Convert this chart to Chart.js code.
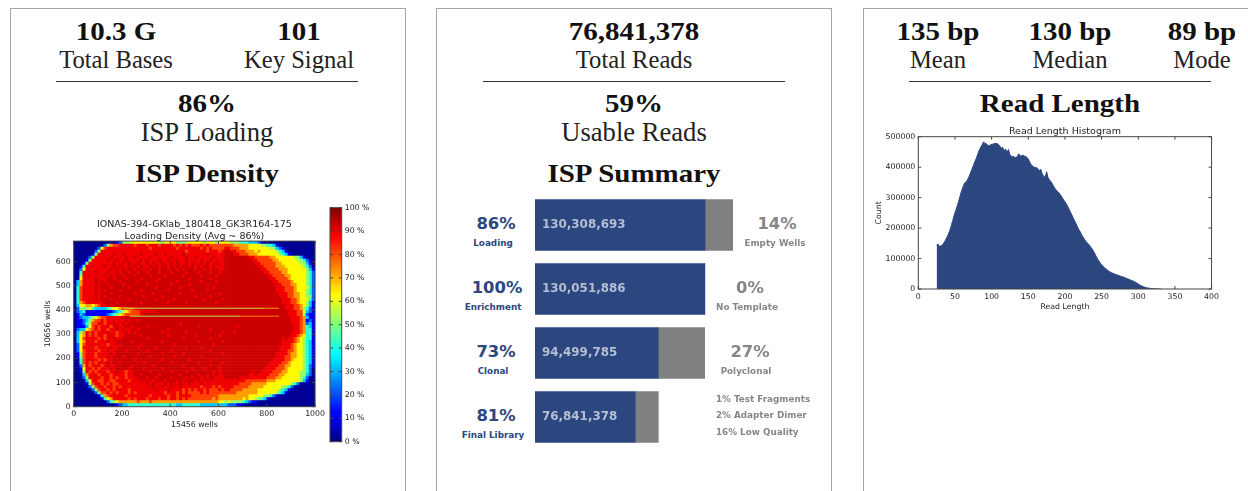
<!DOCTYPE html>
<html>
<head>
<meta charset="utf-8">
<script src="https://cdn.jsdelivr.net/npm/chart.js@4"></script>
<style>
  body { margin: 0; background: #fff; width: 1248px; height: 491px; overflow: hidden; position: relative; }
  .panel { position: absolute; top: 8px; width: 396px; height: 600px; border: 1px solid #a6a6a6; box-sizing: border-box; }
  .rule { position: absolute; top: 81px; width: 302px; height: 1px; background: #333; }
  .lbl { position: absolute; white-space: nowrap; transform: translate(-50%, -50%); line-height: 1; }
  .head { font-family: "Liberation Serif"; font-weight: bold; color: #111; font-size: 25px; transform: translate(-50%, -50%) scaleX(1.16); }
  .sub { font-family: "Liberation Serif"; color: #222; font-size: 24.6px; }
  .big { font-size: 26.6px; }
  .pct { font-family: "DejaVu Sans"; font-weight: bold; font-size: 16.4px; }
  .cap { font-family: "DejaVu Sans"; font-weight: bold; font-size: 8.8px; }
  .blue { color: #2c4780; }
  .grey { color: #868686; }
  .left { transform: translate(0, -50%); }
  canvas { position: absolute; }
</style>
</head>
<body>
<div class="panel" style="left:10px"></div>
<div class="panel" style="left:436px"></div>
<div class="panel" style="left:863px"></div>
<div class="rule" style="left:56px"></div>
<div class="rule" style="left:483px"></div>
<div class="rule" style="left:909px"></div>
<canvas id="densityChart" style="left:30px;top:210px;width:298px;height:226px" width="298" height="226"></canvas>
<canvas id="colorbarChart" style="left:325px;top:200px;width:55px;height:250px" width="55" height="250"></canvas>
<canvas id="summaryChart" style="left:535px;top:193px;width:210px;height:256px" width="210" height="256"></canvas>
<canvas id="lengthChart" style="left:870px;top:120px;width:352px;height:195px" width="352" height="195"></canvas>
<script>
const NAVY = '#2c4780';

// summary bars
const summaryNames = ['Loading', 'Enrichment', 'Clonal', 'Final Library'];
const summaryKept = [130308693, 130051886, 94499785, 76841378];
const summaryLost = [21200000, 256807, 35552101, 17658407];
const summaryPct = ['86%', '100%', '73%', '81%'];
const lostPct = ['14%', '0%', '27%'];
const lostNames = ['Empty Wells', 'No Template', 'Polyclonal'];
const finalNotes = ['1% Test Fragments', '2% Adapter Dimer', '16% Low Quality'];

// read length histogram
const readLengths = [25,27,29,31,33,35,37,39,41,43,45,47,49,51,53,55,57,59,61,63,65,67,69,71,73,75,77,79,81,83,85,87,89,91,93,95,97,99,
  101,103,105,107,109,111,113,115,117,119,121,123,125,127,129,131,133,135,137,139,141,143,145,147,149,151,153,155,157,159,161,163,165,167,169,171,173,175,177,179,181,183,185,187,189,191,193,195,197,199,
  201,203,205,207,209,211,213,215,217,219,221,223,225,227,229,231,233,235,237,239,241,243,245,247,249,251,253,255,257,259,261,263,265,267,269,271,273,275,277,279,281,283,285,287,289,291,293,295,297,299,
  301,303,305,307,309,311,313,315,317,319,321,323,325,327,329,331];
const readCounts = [145000,147000,140000,141000,145000,152000,160000,170000,180000,192000,208000,225000,243000,258000,272000,288000,305000,322000,335000,347000,352000,358000,368000,380000,392000,405000,418000,428000,442000,455000,465000,473000,483000,478000,476000,472000,470000,474000,
  475000,477000,478000,478000,475000,470000,462000,465000,453000,460000,448000,458000,440000,436000,435000,433000,432000,434000,444000,436000,438000,439000,436000,434000,430000,422000,412000,405000,402000,398000,399000,395000,388000,393000,378000,370000,367000,385000,365000,358000,352000,345000,335000,328000,322000,318000,312000,305000,297000,290000,
  283000,275000,265000,255000,245000,235000,225000,215000,205000,195000,187000,177000,170000,162000,155000,150000,145000,138000,132000,124000,115000,105000,97000,90000,82000,77000,72000,68000,64000,60000,57000,54000,52000,50000,48000,46000,45000,43000,41000,40000,38000,36000,34000,32000,30000,28000,26000,24000,21000,18000,
  15000,12000,9500,7500,6000,4500,3500,2500,1800,1200,800,500,300,200,100,50];

// wafer density in blocks of 12.5 wells, top row first
const densityLevels = { 0: 2, 1: 12, 2: 22, 3: 32, 4: 42, 5: 52, 6: 63, 7: 72, 8: 81, 9: 89, x: 92.5 };
const densityRows = [
  '0000000000 0000125556 6666666655 6666555566 6665666566 6655544433 3210000000 0000000000',
  '0000000000 2578899999 8999899989 9998989898 8898988888 8887777766 6655443100 0000000000',
  '0000000026 8999999999 9999989999 9999899999 9989898888 9988877766 6666655321 0000000000',
  '0000000259 9999999999 9999999999 9999999899 9999899989 xx99888777 6766666543 1000000000',
  '0000001599 999x99x999 99x9999x99 x99999x999 9999x99999 xxx9988877 7666666654 3100000000',
  '0000025999 99x9999x99 x9999x9999 99x9999x99 x99999x999 xxxxxxxx99 8888877666 6665531000',
  '0000159999 9x99x99x99 99x9x999x9 9x99x99x99 99x99x9999 xxxxxxxxx9 9888887766 6666554210',
  '0001599999 999x99x9x9 9x99x9x99x 99x9x99x9x 99x9x99x99 xxxxxxxxxx 9988888776 6666655310',
  '0014999999 x99x9x99x9 x9x99x9x9x x9x9x9xx9x 9x9xx9x999 xxxxxxxxxx x998888777 6666665420',
  '0026999999 99x9x9x9xx 9xx9x9xx9x x9xx9x9xxx 9xx9x9xx99 xxxxxxxxxx xx99888877 7666666531',
  '0049999x99 9x99x9xx9x x9xx9xxx9x xx9xxxx9xx x9xxx9xx9x xxxxxxxxxx xxx9988887 7666666542',
  '0059999999 x9x9xx9xxx 9xxxx9xxxx 9xxxxx9xxx xx9xxxx9xx xxxxxxxxxx xxxx998888 7766666542',
  '0069999x99 9xx9xxx9xx xx9xxxxx9x xxxxxxxx9x xxxxx9xxxx xxxxxxxxxx xxxxx99888 8766666542',
  '0379999x9x 9xxxx9xxxx x9xxxxx9xx xxxx9xxxxx xx9xxxx9xx xxxxxxxxxx xxxxxx9988 8876666542',
  '0379999x9x x9xxxx9xxx xxxx9xxxxx xx9xxxxx9x xxxx9xxxxx xxxxxxxxxx xxxxxxx998 8877666542',
  '0489999x9x xx9xxxxx9x xxxxxxx9xx xxxxx9xxxx xxxxxx9xxx xxxxxxxxxx xxxxxxx999 8887666642',
  '0489999x9x 9xxxx9xxxx xx9xxxxxxx x9xxxxxxx9 xxxx9xxxxx xxxxxxxxxx xxxxxxx999 8887666542',
  '0489999x9x xx9xxxxxxx 9xxxxx9xxx xxxxx9xxxx xxxxxxxx9x xxxxxxxxxx xxxxxxxx99 9887766542',
  '0489999x9x 9xxxx9xxxx xxx9xxxxx9 xxxxxxxxxx 9xxxx9xxxx xxxxxxxxxx xxxxxxxx99 9887766552',
  '0489999x9x xx9xxxxx9x xxxxxxx9xx xxx9xxxxxx xxx9xxxxx9 xxxxxxxxxx xxxxxxxxx9 9988766642',
  '0478999999 xxxx9xxxxx xx9xxxxxxx x9xxxxx9xx xxxxxxx9xx xxxxxxxxxx xxxxxxxxx9 9988766531',
  '0366776789 9x9xxxxxxx xxxxxxxxxx xxxxxxxxxx xxxxxxxxxx xxxxxxxxxx xxxxxxxxxx 9998876531',
  '0255564333 3456678888 9xxxxxxxxx xxxxxxxxxx xxxxxxxxxx xxxxxxxxxx xxxxxxxxxx 9998875421',
  '0234111111 1112345678 8899999xxx xxxxxxxxxx xxxxxxxxxx xxxxxxxxxx xxxxxxxxxx x999886321',
  '0132111111 1234567888 889xxxxxxx xxxxxxxxxx xxxxxxxxxx xxxxxxxxxx xxxxxxxxxx x999885211',
  '0123345678 899999xxxx xxxxxxxxxx xxxxxxxxxx xxxxxxxxxx xxxxxxxxxx xxxxxxxxxx xx99987311',
  '0112357889 8999999x9x x9xxxxxxxx xxxxxxxxxx xxxxxxxxxx xxxxxxxxxx xxxxxxxxxx xx99987121',
  '0112458899 899x99x9xx xxxxxxxxxx xxxxx9xxxx xxxxxxxxxx xxxxxxxxxx xxxxxxxxxx xx99987231',
  '0111368989 9989x99xx9 xxxx9xxxxx xxxxxxxxxx x9xxxxxxxx xxxx9xxxxx xxxxxxxxxx xxx9987431',
  '0233678989 9899x9x99x x9xxxxxxxx x9xxxxxxxx xxxxx9xxxx xxxxxxxxxx xxxxxxxxxx xxx9987441',
  '0357989899 9x99899x9x 9xxxxxxxx9 xxxxxxx9xx xxxxxxxxx9 xxx9xxxxxx xxxxxxxxxx xx99987441',
  '0367989899 89x9899xxx xx9xxxxxxx x9xxxxxxxx 9xxxxxxx9x xxxxxxxxxx xxxxxxxxxx xx99876441',
  '0368999989 899x99xxxx xxxx9xxxxx xxxxxx9xxx xxxxx9xxxx xxxxxxxxxx xxxxxxxxx9 x998765441',
  '0367999899 9x99xxxxx9 xxxxxxxxx9 xxxxxxxxxx x9xxxxxxx9 xxxxxxxxxx xxxxxxxxx9 9998765431',
  '0268999999 9899x9xxxx xx9xxxxxxx xxx9xxxxxx xxxxxx9xxx xxxxxxxxxx xxxxxxxxx9 9987665431',
  '0269999899 99x99xxxxx x9xxxxx9xx xxxxxxx9xx xx9xxxxxxx xxxxxxxxxx xxxxxxxx99 9987665431',
  '0268999989 9x99xxx9xx xxxx9xxxxx xx9xxxxxxx xxxxx9xxxx xxxxxxxxxx xxxxxxxx99 9887665431',
  '0158999899 99x9xxxxxx x9xxxxxxx9 xxxxxx9xxx xxxxxxxxx9 xxxxxxxxxx xxxxxxx999 9877665431',
  '0158999899 9x9xxx9xxx xxxxx9xxxx xxx9xxxxxx xx9xxxxxxx xxxxxxxxxx xxxxxxx999 8877665431',
  '0048999989 899xxxxxxx 9xxxxxxxx9 xxxxxxxx9x xxxxx9xxxx xxxxxxxxxx xxxxxx9999 8876665431',
  '0048989899 9x9xx9xxxx xxx9xxxxxx xx9xxxxxxx x9xxxxxxx9 xxxxxxxxxx xxxxx99998 8766665431',
  '0027989998 9x99xxxxx9 xxxxxx9xxx xxxxxx9xxx xxxxx9xx9x xxxxxxxxxx xxxx999988 7766665421',
  '0016998989 99x9xxxx9x xxx9xxxxx9 xxxxxxxxx9 xxx9xxxx9x xxxxxxxxxx xxx9999888 7666665420',
  '0015989899 9899x99899 xxxxx9xxxx xx9xxxx9xx xxxxxx9x9x xxxxxxxxx9 xx99998887 7666655420',
  '0003799989 9989999899 xx9xxxxx9x xxxxx9xxxx x9xx9x9x99 xxxxxxxx99 x999988877 6666655320',
  '0002599998 9989899899 9xxx9xx9xx xx9xxxx9x9 xx9x9xx999 xxxxx99999 9999888776 6666654200',
  '0000369988 9988999989 99x9x99xxx 9xxx9x9xxx 9x99x99999 9999999888 8888777666 6666653100',
  '0000158998 9898899999 9999x9x999 x9x99x99x9 99x9999999 9999988887 7777666666 6654200000',
  '0000025899 8998989999 999999x99x 99x99x9999 9989998989 9998888877 7776666665 5420000000',
  '0000002589 9898999989 9999999x99 9x99998989 8998988898 9988887777 7666666654 3100000000',
  '0000000258 8989899989 8999999999 8999898988 8898988888 8888777777 7666666543 1000000000',
  '0000000014 7899999899 9999989999 9899899998 8888888877 7777777766 6665542100 0000000000',
  '0000000001 4679999989 8999899989 9899898988 8888887877 7777776766 5543100000 0000000000',
  '0000000000 0245677777 7877787777 7777777777 7777777766 5655554321 1000000000 0000000000',
  '0000000000 0000123344 4444444444 4444334444 4433333333 3222110000 0000000000 0000000000'
];
const upperStreakX = [205, 790];
const upperStreakY = [408, 408];
const upperFadeX = [790, 850];
const upperFadeY = [408, 408];
const lowerStreakX = [233, 690];
const lowerStreakY = [375, 375];
const lowerFadeX = [690, 850];
const lowerFadeY = [375, 375];

const jetStops = [[0, '#00007f'], [0.11, '#0000ff'], [0.125, '#0000ff'], [0.375, '#00ffff'], [0.625, '#ffff00'], [0.875, '#ff0000'], [1, '#7f0000']];

function jetColor(p) {
  const t = p / 100;
  const clip = v => Math.max(0, Math.min(1, v));
  const r = clip(Math.min(4 * t - 1.5, -4 * t + 4.5));
  const g = clip(Math.min(4 * t - 0.5, -4 * t + 3.5));
  const b = clip(Math.min(4 * t + 0.5, -4 * t + 2.5));
  return `rgb(${Math.round(r * 255)},${Math.round(g * 255)},${Math.round(b * 255)})`;
}

// html text
function place(text, x, y, cls) {
  const d = document.createElement('div');
  d.className = 'lbl ' + cls;
  d.style.left = x + 'px';
  d.style.top = y + 'px';
  d.textContent = text;
  document.body.appendChild(d);
}

place('10.3 G', 116, 31, 'head');
place('101', 299, 31, 'head');
place('Total Bases', 116, 60, 'sub');
place('Key Signal', 299, 60, 'sub');
place('86%', 207, 103, 'head');
place('ISP Loading', 207, 132, 'sub big');
place('ISP Density', 207, 173, 'head');

place('76,841,378', 634, 31, 'head');
place('Total Reads', 634, 60, 'sub');
place('59%', 634, 103, 'head');
place('Usable Reads', 634, 132, 'sub big');
place('ISP Summary', 634, 173, 'head');

place('135 bp', 938, 31, 'head');
place('130 bp', 1070, 31, 'head');
place('89 bp', 1202, 31, 'head');
place('Mean', 938, 60, 'sub');
place('Median', 1070, 60, 'sub');
place('Mode', 1202, 60, 'sub');
place('Read Length', 1060, 103, 'head');

const pctX = [496, 497, 496, 496];
const pctY = [224, 288, 352, 416];
summaryNames.forEach((name, i) => {
  place(summaryPct[i], pctX[i], pctY[i], 'pct blue');
  place(name, 493, pctY[i] + 19, 'cap blue');
});
const lostX = [777, 750, 750];
const lostCapX = [775, 747, 746];
lostPct.forEach((p, i) => {
  place(p, lostX[i], pctY[i], 'pct grey');
  place(lostNames[i], lostCapX[i], pctY[i] + 19, 'cap grey');
});
const noteY = [399, 415, 431.5];
finalNotes.forEach((n, i) => place(n, 716, noteY[i], 'cap grey left'));

Chart.defaults.font.family = '"DejaVu Sans"';
Chart.defaults.font.size = 7.8;
Chart.defaults.color = '#222';
Chart.defaults.animation = false;
Chart.defaults.responsive = false;
Chart.defaults.plugins.legend.display = false;
Chart.defaults.plugins.tooltip.enabled = false;

const noGrid = { display: false, drawTicks: false };
const plainTick = v => String(v);

// matplotlib style box with ticks pointing in
const frame = {
  id: 'frame',
  afterDraw(chart) {
    const { ctx, chartArea: a, scales } = chart;
    ctx.save();
    ctx.strokeStyle = '#444';
    ctx.lineWidth = 1;
    ctx.beginPath();
    if (scales.x && scales.x.options.display) {
      scales.x.ticks.forEach((t, i) => {
        const x = scales.x.getPixelForTick(i);
        ctx.moveTo(x, a.bottom); ctx.lineTo(x, a.bottom - 3);
        ctx.moveTo(x, a.top); ctx.lineTo(x, a.top + 3);
      });
    }
    scales.y.ticks.forEach((t, i) => {
      const y = scales.y.getPixelForTick(i);
      ctx.moveTo(a.left, y); ctx.lineTo(a.left + 3, y);
      ctx.moveTo(a.right, y); ctx.lineTo(a.right - 3, y);
    });
    ctx.stroke();
    ctx.strokeRect(a.left, a.top, a.right - a.left, a.bottom - a.top);
    ctx.restore();
  }
};

// density map
const cellPoints = [];
const cellColors = [];
densityRows.forEach((row, r) => {
  row.replace(/ /g, '').split('').forEach((code, c) => {
    cellPoints.push({ x: (c + 0.5) * 12.5, y: 686 - (r + 0.5) * 12.47 });
    cellColors.push(jetColor(densityLevels[code]));
  });
});

const streak = (xs, ys, color) => ({
  data: xs.map((x, i) => ({ x, y: ys[i] })),
  showLine: true,
  pointRadius: 0,
  borderColor: color,
  borderWidth: 1
});

new Chart(document.getElementById('densityChart'), {
  type: 'scatter',
  data: {
    datasets: [
      streak(upperStreakX, upperStreakY, '#c8e040'),
      streak(upperFadeX, upperFadeY, '#ff9a00'),
      streak(lowerStreakX, lowerStreakY, '#b4e050'),
      streak(lowerFadeX, lowerFadeY, '#ff8000'),
      { data: cellPoints, pointStyle: 'rect', pointRadius: 2.6, pointBorderWidth: 0, pointBackgroundColor: cellColors }
    ]
  },
  options: {
    plugins: {
      title: {
        display: true,
        fullSize: false,
        text: ['IONAS-394-GKlab_180418_GK3R164-175', 'Loading Density (Avg ~ 86%)'],
        font: { size: 9.5, weight: 'normal', lineHeight: 1.2 },
        padding: { top: 9, bottom: -0.7 }
      }
    },
    scales: {
      x: {
        type: 'linear', min: 0, max: 1000,
        grid: noGrid, border: { display: false },
        ticks: { stepSize: 200, maxRotation: 0, padding: 3, callback: plainTick },
        title: { display: true, text: '15456 wells', font: { size: 7.8 }, padding: { top: 0, bottom: 6 } },
        afterFit: s => { s.height = 29.3; }
      },
      y: {
        type: 'linear', min: 0, max: 686,
        grid: noGrid, border: { display: false },
        ticks: { stepSize: 100, includeBounds: false, padding: 3, callback: plainTick },
        title: { display: true, text: '10656 wells', font: { size: 7.8 }, padding: { top: 13, bottom: 0 } },
        afterFit: s => { s.width = 43.7; }
      }
    }
  },
  plugins: [frame]
});

// colour bar
new Chart(document.getElementById('colorbarChart'), {
  type: 'bar',
  data: {
    labels: ['density'],
    datasets: [{
      data: [[0, 100]],
      categoryPercentage: 1,
      barPercentage: 1,
      backgroundColor: ctx => {
        const a = ctx.chart.chartArea;
        if (!a) return '#888';
        const g = ctx.chart.ctx.createLinearGradient(0, a.bottom, 0, a.top);
        jetStops.forEach(s => g.addColorStop(s[0], s[1]));
        return g;
      }
    }]
  },
  options: {
    layout: { padding: { left: 5, top: 7, bottom: 8.3 } },
    scales: {
      x: { display: false },
      y: {
        position: 'right', min: 0, max: 100,
        grid: noGrid, border: { display: false },
        ticks: { stepSize: 10, padding: 3, callback: v => v + ' %' },
        afterFit: s => { s.width = 38.3; }
      }
    }
  },
  plugins: [frame]
});

// summary bars, value labels written on the blue part
const barLabels = {
  id: 'barLabels',
  afterDatasetsDraw(chart) {
    const { ctx } = chart;
    ctx.save();
    ctx.font = 'bold 11.9px "DejaVu Sans"';
    ctx.fillStyle = '#b6bed4';
    ctx.textBaseline = 'middle';
    chart.getDatasetMeta(0).data.forEach((bar, i) => {
      ctx.fillText(summaryKept[i].toLocaleString('en-US'), bar.base + 7, bar.y);
    });
    ctx.restore();
  }
};

new Chart(document.getElementById('summaryChart'), {
  type: 'bar',
  data: {
    labels: summaryNames,
    datasets: [
      { data: summaryKept, backgroundColor: NAVY, barThickness: 51 },
      { data: summaryLost, backgroundColor: '#808080', barThickness: 51 }
    ]
  },
  options: {
    indexAxis: 'y',
    scales: {
      x: { display: false, stacked: true, min: 0, max: 160970000 },
      y: { display: false, stacked: true }
    }
  },
  plugins: [barLabels]
});

// read length histogram
new Chart(document.getElementById('lengthChart'), {
  type: 'line',
  data: {
    datasets: [{
      data: readLengths.map((x, i) => ({ x, y: readCounts[i] })),
      fill: 'origin',
      pointRadius: 0,
      borderWidth: 1,
      borderColor: NAVY,
      backgroundColor: NAVY
    }]
  },
  options: {
    plugins: {
      title: {
        display: true,
        fullSize: false,
        text: 'Read Length Histogram',
        font: { size: 9.5, weight: 'normal', lineHeight: 1.2 },
        padding: { top: 6, bottom: -0.7 }
      }
    },
    layout: { padding: { right: 0.3 } },
    scales: {
      x: {
        type: 'linear', min: 0, max: 400,
        grid: noGrid, border: { display: false },
        ticks: { stepSize: 50, maxRotation: 0, padding: 3, callback: plainTick },
        title: { display: true, text: 'Read Length', font: { size: 7.8 }, padding: { top: 0, bottom: 3 } },
        afterFit: s => { s.height = 26; }
      },
      y: {
        min: 0, max: 500000,
        grid: noGrid, border: { display: false },
        ticks: { stepSize: 100000, padding: 3, callback: plainTick },
        title: { display: true, text: 'Count', font: { size: 7.8 }, padding: { top: 4.5, bottom: 0 } },
        afterFit: s => { s.width = 48.3; }
      }
    }
  },
  plugins: [frame]
});
</script>
</body>
</html>
